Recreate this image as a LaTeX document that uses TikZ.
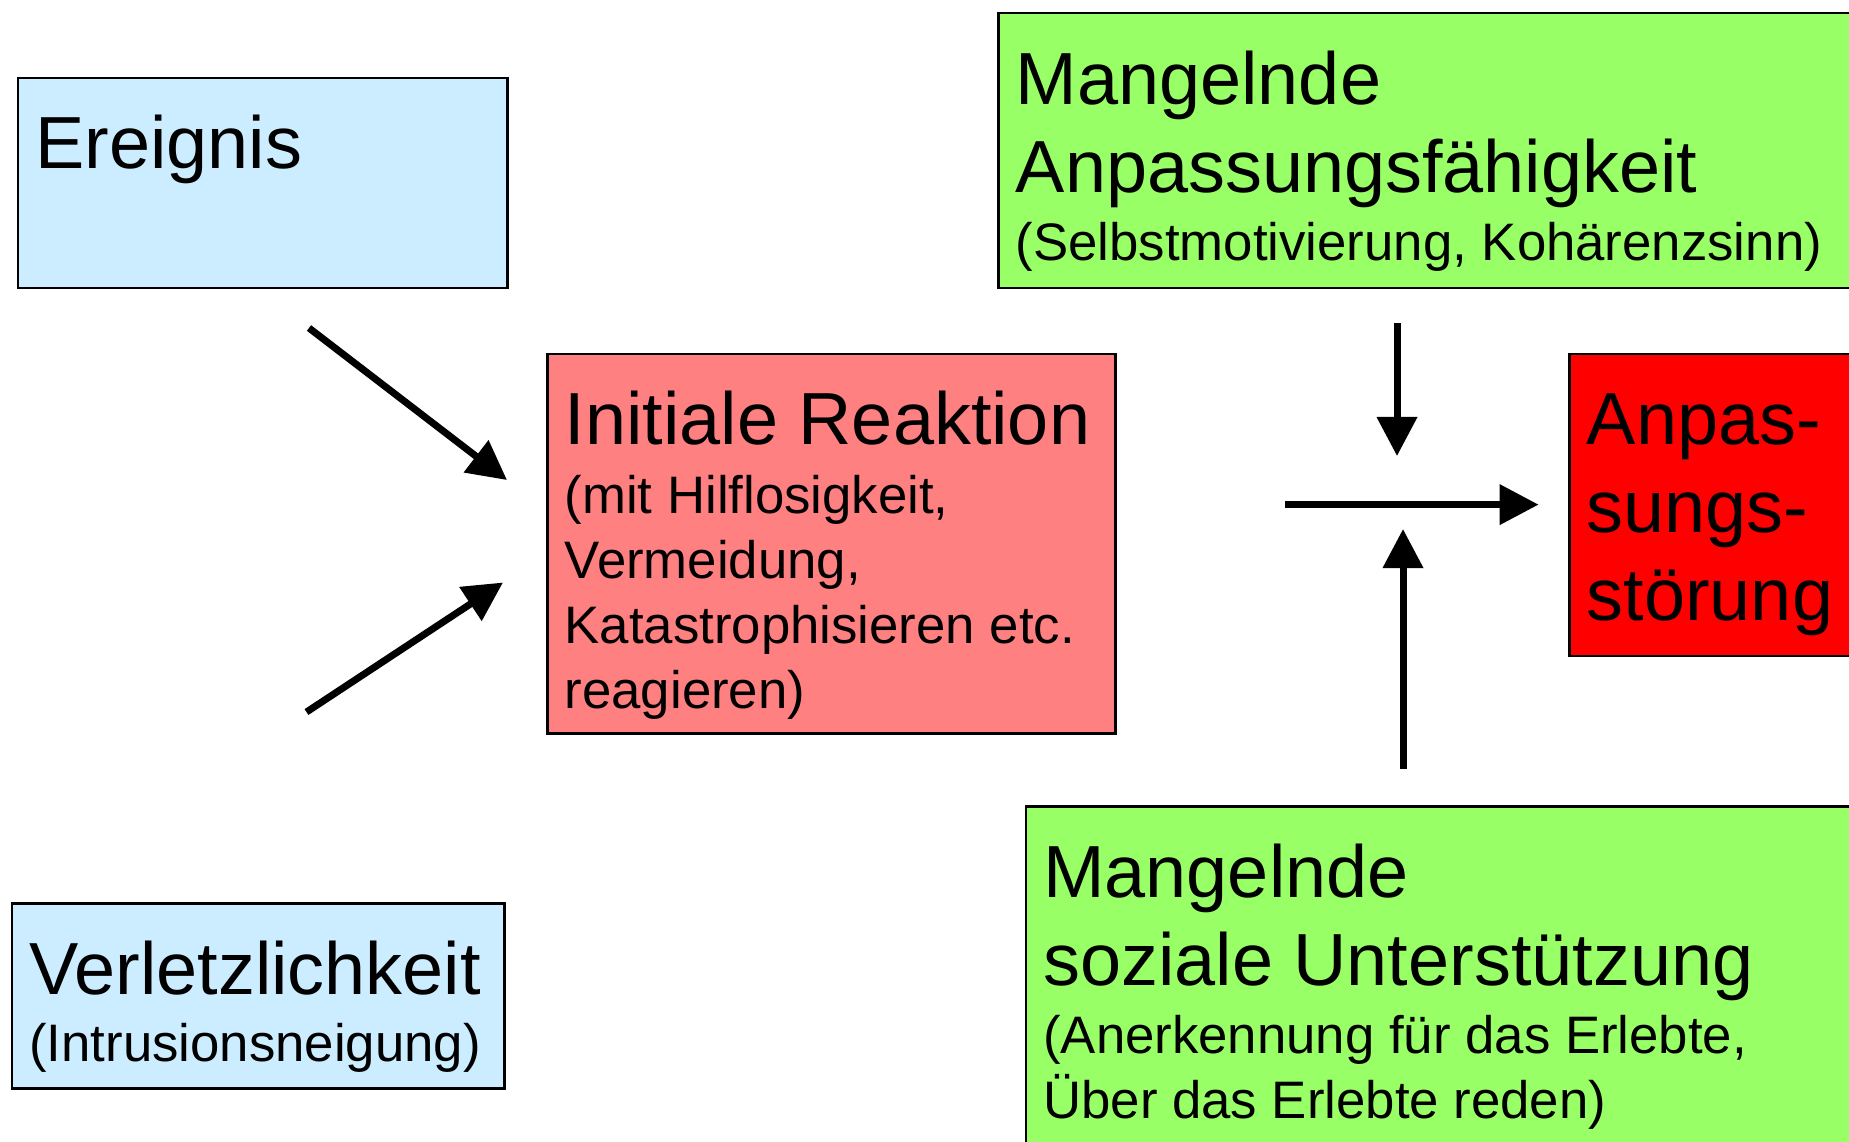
\documentclass[tikz,border=0pt]{standalone}
\usepackage{fontspec}
\setmainfont{Liberation Sans}
\usetikzlibrary{arrows.meta}

\definecolor{eventblue}{RGB}{204,236,255}
\definecolor{reactred}{RGB}{255,128,128}
\definecolor{lackgreen}{RGB}{153,255,102}
\definecolor{disorderred}{RGB}{255,0,0}

\newcommand{\lgfont}{\fontsize{21pt}{25pt}\selectfont}
\newcommand{\smfont}{\fontsize{15pt}{18.5pt}\selectfont}
% Breite, Hoehe, Inhalt
\newcommand{\boxtext}[3]{\parbox[t][#2][t]{#1}{\raggedright\parskip=0pt\lgfont\rule{0pt}{0.91cm}#3}}

\begin{document}
\begin{tikzpicture}[
    x=0.01cm, y=-0.01cm,
    box/.style={rectangle, draw, line width=0.025cm, anchor=north west, inner xsep=0.175cm, inner ysep=0pt},
    arrow/.style={-{Triangle[length=0.39cm, width=0.39cm]}, line width=0.07cm}
]
    \path[use as bounding box, fill=white] (0,0) rectangle (1849,1141);
    \clip (0,0) rectangle (1849,1141);

    % Kaesten
    \node [box, fill=eventblue] (ereignis) at (16.5,76.6)
        {\boxtext{4.545cm}{2.10cm}{Ereignis}};
    \node [box, fill=eventblue] (verletz) at (10.6,902)
        {\boxtext{4.575cm}{1.85cm}{Verletzlichkeit\par\smfont\vspace{0.5pt}(Intrusionsneigung)}};
    \node [box, fill=reactred] (reaktion) at (546,352.5)
        {\boxtext{5.33cm}{3.796cm}{Initiale Reaktion\par\smfont\vspace{1pt}(mit Hilflosigkeit,\\Vermeidung,\\Katastrophisieren etc.\\reagieren)}};
    \node [box, fill=lackgreen] (anpass) at (997,11.8)
        {\boxtext{8.68cm}{2.747cm}{Mangelnde\\Anpassungsfähigkeit\par\smfont\vspace{1pt}(Selbstmotivierung, Kohärenzsinn)}};
    \node [box, fill=disorderred] (stoerung) at (1568,352.5)
        {\boxtext{2.97cm}{3.018cm}{Anpas-\\sungs-\\störung}};
    \node [box, fill=lackgreen] (unterst) at (1024.5,805)
        {\boxtext{8.4cm}{4.0cm}{Mangelnde\\soziale Unterstützung\par\smfont\vspace{1pt}(Anerkennung für das Erlebte,\\Über das Erlebte reden)}};

    % freie Enden der Pfeile
    \coordinate (ereignis-out) at (309,328);
    \coordinate (ereignis-in) at (507,480);
    \coordinate (verletz-out) at (306.5,712);
    \coordinate (verletz-in) at (503,582.5);
    \coordinate (reaktion-out) at (1285,504.6);
    \coordinate (stoerung-in) at (1538.6,504.6);
    \coordinate (anpass-out) at (1397,323);
    \coordinate (anpass-in) at (1397,456);
    \coordinate (unterst-out) at (1403,768.7);
    \coordinate (unterst-in) at (1403,529);

    % Pfeile
    \draw [arrow] (ereignis-out) -- (ereignis-in);
    \draw [arrow] (verletz-out) -- (verletz-in);
    \draw [arrow] (reaktion-out) -- (stoerung-in);
    \draw [arrow] (anpass-out) -- (anpass-in);
    \draw [arrow] (unterst-out) -- (unterst-in);
\end{tikzpicture}
\end{document}
